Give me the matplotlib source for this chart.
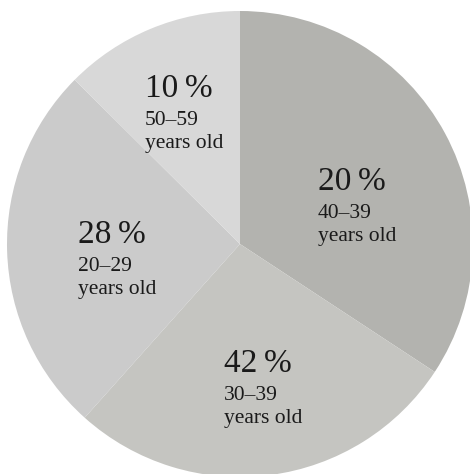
import matplotlib
matplotlib.use("Agg")
import matplotlib.pyplot as plt

# Percent labels shown on the chart
percent_values = [20, 42, 28, 10]
age_ranges = ["40\u201339", "30\u201339", "20\u201329", "50\u201359"]
# Wedge extents as drawn in the picture (degrees, clockwise from 12 o'clock)
wedge_sizes = [123.3, 98.5, 93.0, 45.2]
colors = ["#b3b3af", "#c5c5c1", "#cbcbcb", "#d8d8d8"]

W, H = 470, 474
fig = plt.figure(figsize=(W / 100, H / 100), dpi=100)
ax = fig.add_axes([0, 0, 1, 1])
ax.axis("off")

cx, cy, r = 240, H - 244, 233
ax.pie(wedge_sizes, colors=colors, startangle=90, counterclock=False,
       center=(cx, cy), radius=r, wedgeprops=dict(linewidth=0))
ax.set_xlim(0, W)
ax.set_ylim(0, H)
ax.set_aspect("equal")

# label anchor positions (left x, baseline y of big number) in pixel coords from top
label_pos = [(318, 190), (224, 372), (78, 243), (145, 97)]
font = ["Liberation Serif", "DejaVu Serif"]
for (x, yb), pct, rng in zip(label_pos, percent_values, age_ranges):
    ax.text(x, H - yb, f"{pct}\u2009%", fontsize=24, family=font, color="#1a1a1a",
            ha="left", va="baseline")
    ax.text(x, H - (yb + 28), rng, fontsize=15.5, family=font, color="#1a1a1a",
            ha="left", va="baseline")
    ax.text(x, H - (yb + 51), "years old", fontsize=15.5, family=font,
            color="#1a1a1a", ha="left", va="baseline")

fig.savefig("out.png", dpi=100, facecolor="white")
